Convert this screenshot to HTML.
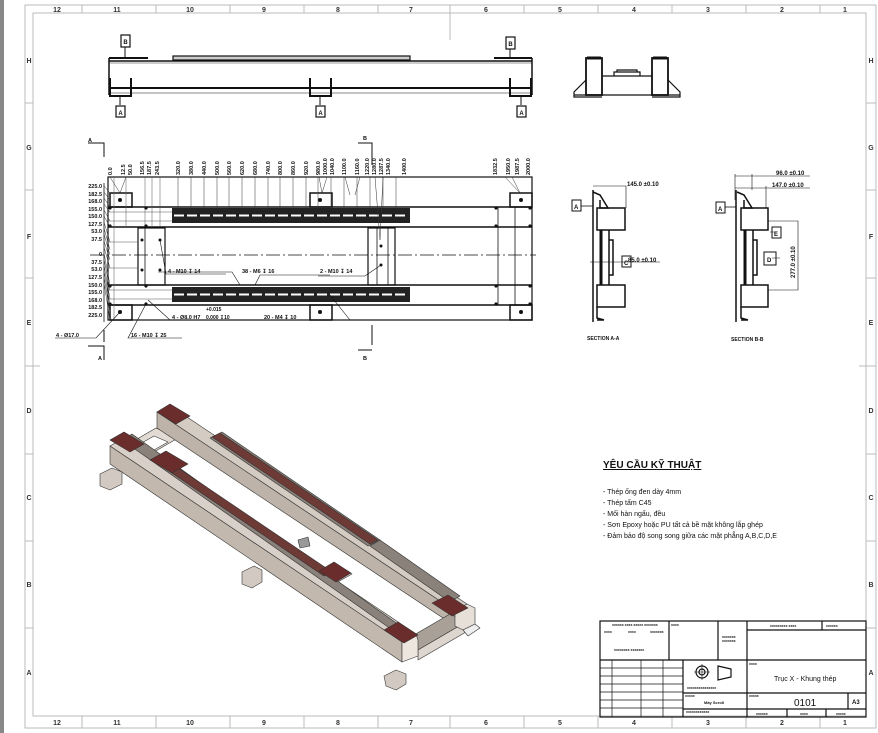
<!DOCTYPE html>
<html><head><meta charset="utf-8"><style>
html,body{margin:0;padding:0;background:#fff;}
svg{display:block;font-family:"Liberation Sans",sans-serif;}
</style></head><body>
<svg width="878" height="733" viewBox="0 0 878 733" xmlns="http://www.w3.org/2000/svg">
<rect x="0" y="0" width="878" height="733" fill="#fff"/>
<rect x="0" y="0" width="4" height="733" fill="#888"/>
<rect x="25" y="5" width="851" height="723" fill="none" stroke="#bbb" stroke-width="1"/>
<rect x="33" y="13" width="833" height="703" fill="none" stroke="#bbb" stroke-width="1"/>
<g stroke="#bbb" stroke-width="1">
<line x1="82" y1="5" x2="82" y2="13"/><line x1="156" y1="5" x2="156" y2="13"/><line x1="230" y1="5" x2="230" y2="13"/><line x1="304" y1="5" x2="304" y2="13"/><line x1="378" y1="5" x2="378" y2="13"/><line x1="450" y1="5" x2="450" y2="40"/><line x1="524" y1="5" x2="524" y2="13"/><line x1="598" y1="5" x2="598" y2="13"/><line x1="672" y1="5" x2="672" y2="13"/><line x1="746" y1="5" x2="746" y2="13"/><line x1="820" y1="5" x2="820" y2="13"/>
<line x1="82" y1="716" x2="82" y2="728"/><line x1="156" y1="716" x2="156" y2="728"/><line x1="230" y1="716" x2="230" y2="728"/><line x1="304" y1="716" x2="304" y2="728"/><line x1="378" y1="716" x2="378" y2="728"/><line x1="450" y1="716" x2="450" y2="728"/><line x1="524" y1="716" x2="524" y2="728"/><line x1="598" y1="716" x2="598" y2="728"/><line x1="672" y1="716" x2="672" y2="728"/><line x1="746" y1="716" x2="746" y2="728"/><line x1="820" y1="716" x2="820" y2="728"/>
<line x1="25" y1="103" x2="33" y2="103"/><line x1="25" y1="190" x2="33" y2="190"/><line x1="25" y1="278" x2="33" y2="278"/><line x1="25" y1="366" x2="40" y2="366"/><line x1="25" y1="454" x2="33" y2="454"/><line x1="25" y1="541" x2="33" y2="541"/><line x1="25" y1="628" x2="33" y2="628"/>
<line x1="866" y1="103" x2="876" y2="103"/><line x1="866" y1="190" x2="876" y2="190"/><line x1="866" y1="278" x2="876" y2="278"/><line x1="859" y1="366" x2="876" y2="366"/><line x1="866" y1="454" x2="876" y2="454"/><line x1="866" y1="541" x2="876" y2="541"/><line x1="866" y1="628" x2="876" y2="628"/>
</g>
<g font-size="7" fill="#333" text-anchor="middle" font-weight="bold">
<text x="57" y="12">12</text><text x="117" y="12">11</text><text x="190" y="12">10</text><text x="264" y="12">9</text><text x="338" y="12">8</text><text x="411" y="12">7</text><text x="486" y="12">6</text><text x="560" y="12">5</text><text x="634" y="12">4</text><text x="708" y="12">3</text><text x="782" y="12">2</text><text x="845" y="12">1</text>
<text x="57" y="725">12</text><text x="117" y="725">11</text><text x="190" y="725">10</text><text x="264" y="725">9</text><text x="338" y="725">8</text><text x="411" y="725">7</text><text x="486" y="725">6</text><text x="560" y="725">5</text><text x="634" y="725">4</text><text x="708" y="725">3</text><text x="782" y="725">2</text><text x="845" y="725">1</text>
<text x="29" y="63">H</text><text x="29" y="150">G</text><text x="29" y="239">F</text><text x="29" y="325">E</text><text x="29" y="413">D</text><text x="29" y="500">C</text><text x="29" y="587">B</text><text x="29" y="675">A</text>
<text x="871" y="63">H</text><text x="871" y="150">G</text><text x="871" y="239">F</text><text x="871" y="325">E</text><text x="871" y="413">D</text><text x="871" y="500">C</text><text x="871" y="587">B</text><text x="871" y="675">A</text>
</g>

<!-- TOP VIEW -->
<g stroke="#111" fill="none" stroke-width="1">
<rect x="121" y="35" width="9" height="12" stroke-width="1.2"/><line x1="125" y1="47" x2="125" y2="58"/>
<rect x="506" y="37" width="9" height="12" stroke-width="1.2"/><line x1="510" y1="49" x2="510" y2="58"/>
<line x1="109" y1="58" x2="148" y2="58" stroke-width="2"/><line x1="494" y1="58" x2="532" y2="58" stroke-width="2"/>
<rect x="173" y="56" width="237" height="4" fill="#ccc" stroke-width="1.2"/>
<line x1="109" y1="61" x2="532" y2="61" stroke-width="1.5"/>
<line x1="109" y1="63" x2="532" y2="63" stroke="#999"/>
<line x1="109" y1="58" x2="109" y2="95" stroke-width="1.5"/><line x1="532" y1="58" x2="532" y2="95" stroke-width="1.5"/>
<line x1="109" y1="88" x2="532" y2="88" stroke-width="2"/>
<line x1="109" y1="93" x2="532" y2="93" stroke="#888"/>
<path d="M110 78V96H131V78" stroke-width="2"/>
<path d="M310 78V96H331V78" stroke-width="2"/>
<path d="M510 78V96H531V78" stroke-width="2"/>
<line x1="120" y1="96" x2="120" y2="105"/><line x1="320" y1="96" x2="320" y2="105"/><line x1="521" y1="96" x2="521" y2="105"/>
<rect x="116" y="106" width="9" height="11" stroke-width="1.2"/><rect x="316" y="106" width="9" height="11" stroke-width="1.2"/><rect x="517" y="106" width="9" height="11" stroke-width="1.2"/>
</g>
<g font-size="6" font-weight="bold" text-anchor="middle" fill="#111">
<text x="125.5" y="44">B</text><text x="510.5" y="46">B</text><text x="120.5" y="115">A</text><text x="320.5" y="115">A</text><text x="521.5" y="115">A</text>
</g>

<!-- END VIEW -->
<g stroke="#111" fill="none" stroke-width="1.2">
<rect x="586" y="58" width="16" height="37" stroke-width="1.8"/>
<rect x="652" y="58" width="16" height="37" stroke-width="1.8"/>
<line x1="587" y1="58" x2="601" y2="58" stroke-width="3"/><line x1="653" y1="58" x2="667" y2="58" stroke-width="3"/>
<path d="M602 76H652M614 76V72H640V76M617 72V70H637V72"/>
<path d="M586 80L574 92V97H602M668 80L680 92V97H652" />
<line x1="574" y1="95" x2="680" y2="95"/>
</g>

<!-- PLAN VIEW -->
<g stroke="#111" fill="none" stroke-width="0.8">
<line x1="108" y1="177" x2="532" y2="177"/>
<rect x="108" y="177" width="424" height="143" stroke-width="1.2"/>
<rect x="110" y="193" width="22" height="14" stroke-width="1.5"/>
<rect x="310" y="193" width="22" height="14" stroke-width="1.5"/>
<rect x="510" y="193" width="22" height="14" stroke-width="1.5"/>
<rect x="110" y="305" width="22" height="15" stroke-width="1.5"/>
<rect x="310" y="305" width="22" height="15" stroke-width="1.5"/>
<rect x="510" y="305" width="22" height="15" stroke-width="1.5"/>
<line x1="108" y1="207" x2="532" y2="207" stroke-width="1.5"/>
<line x1="108" y1="227" x2="532" y2="227" stroke-width="1.5"/>
<line x1="108" y1="285" x2="532" y2="285" stroke-width="1.5"/>
<line x1="108" y1="305" x2="532" y2="305" stroke-width="1.5"/>
<rect x="172" y="208" width="238" height="15" fill="#222" stroke="none"/>
<rect x="172" y="287" width="238" height="15" fill="#222" stroke="none"/>
<line x1="174" y1="215.5" x2="408" y2="215.5" stroke="#fff" stroke-width="2" stroke-dasharray="10 3"/>
<line x1="174" y1="294.5" x2="408" y2="294.5" stroke="#fff" stroke-width="2" stroke-dasharray="10 3"/>
<rect x="138" y="228" width="27" height="57" stroke-width="1.2"/>
<rect x="368" y="228" width="27" height="57" stroke-width="1.2"/>
<line x1="145" y1="227" x2="145" y2="285"/><line x1="377" y1="227" x2="377" y2="285"/><line x1="388" y1="227" x2="388" y2="285"/>
<line x1="498" y1="207" x2="498" y2="305"/><line x1="515" y1="207" x2="515" y2="305"/>
<line x1="90" y1="255" x2="536" y2="255" stroke-dasharray="14 3 2 3"/>
<g stroke="#555" stroke-width="0.5">
<line x1="114" y1="177" x2="114" y2="320"/><line x1="126" y1="177" x2="126" y2="228"/>
<line x1="145" y1="177" x2="145" y2="227"/><line x1="152" y1="177" x2="152" y2="227"/><line x1="160" y1="177" x2="160" y2="227"/>
<line x1="108" y1="212" x2="172" y2="212"/><line x1="108" y1="221" x2="172" y2="221"/><line x1="108" y1="290" x2="172" y2="290"/><line x1="108" y1="299" x2="172" y2="299"/>
<line x1="108" y1="242" x2="138" y2="242"/><line x1="108" y1="268" x2="138" y2="268"/>
</g>
<g stroke="#333" stroke-width="0.5">
<path d="M178 177V208M191 177V208M204 177V208M217 177V208M229 177V208M242 177V208M255 177V208M268 177V208M280 177V208M293 177V208M306 177V208M318 177V208M331 177V208M344 177V208M357 177V208M370 177V208M383 177V208M396 177V208"/>
<path d="M319 177L322 193M327 177L322 193M345 177L350 195M360 177L355 195M375 177L380 240M383 177L380 240M505 177L520 193M512 177L520 193M110 177L120 193M126 177L120 193"/>
</g>
<g fill="#111" stroke="none">
<circle cx="120" cy="200" r="2"/><circle cx="320" cy="200" r="2"/><circle cx="521" cy="200" r="2"/>
<circle cx="120" cy="312" r="2"/><circle cx="320" cy="312" r="2"/><circle cx="521" cy="312" r="2"/>
<circle cx="110" cy="208" r="1.6"/><circle cx="110" cy="226" r="1.6"/><circle cx="110" cy="286" r="1.6"/><circle cx="110" cy="304" r="1.6"/>
<circle cx="146" cy="208" r="1.6"/><circle cx="146" cy="226" r="1.6"/><circle cx="146" cy="286" r="1.6"/><circle cx="146" cy="304" r="1.6"/>
<circle cx="496" cy="208" r="1.6"/><circle cx="496" cy="226" r="1.6"/><circle cx="496" cy="286" r="1.6"/><circle cx="496" cy="304" r="1.6"/>
<circle cx="530" cy="208" r="1.6"/><circle cx="530" cy="226" r="1.6"/><circle cx="530" cy="286" r="1.6"/><circle cx="530" cy="304" r="1.6"/>
<circle cx="142" cy="240" r="1.5"/><circle cx="160" cy="240" r="1.5"/><circle cx="142" cy="270" r="1.5"/><circle cx="160" cy="270" r="1.5"/>
<circle cx="381" cy="246" r="1.5"/><circle cx="381" cy="265" r="1.5"/>
</g>
<line x1="104" y1="183" x2="104" y2="322"/>
<path d="M104 186L110 193M104 192L110 200M104 198L110 207M104 204L110 212M104 210L110 221M104 216L110 227M104 222L110 242M104 228L110 250M104 234L110 255M104 241L110 260M104 247L110 268M104 253L110 285M104 259L110 290M104 265L110 299M104 271L110 305M104 277L110 312M104 283L110 320" stroke="#333" stroke-width="0.5"/>
<path d="M88 143H104V157M104 330V342M88 346H104V360" stroke-width="1"/>
<path d="M358 143H372V165M372 325V345M358 350H372" stroke-width="1"/>
<path d="M120 312L96 338H55M146 304L128 338H182M148 300L170 320H232M240 285L232 272H158M255 285L260 275H330M330 295L350 320H412M160 240L166 274H226M381 265L365 276H318" stroke-width="0.6"/>
</g>
<g font-size="5.5" fill="#111" font-weight="bold">
<text x="88" y="142">A</text><text x="98" y="360">A</text><text x="363" y="140">B</text><text x="363" y="360">B</text>
<text x="56" y="337">4 - Ø17.0</text>
<text x="131" y="337">16 - M10 ↧ 25</text>
<text x="172" y="319">4 - Ø8.0 H7</text><text x="206" y="311" font-size="5">+0.015</text><text x="206" y="319" font-size="5">0.000 ↧10</text>
<text x="264" y="319">20 - M4 ↧ 10</text>
<text x="168" y="273">4 - M10 ↧ 14</text>
<text x="242" y="273">38 - M6 ↧ 16</text>
<text x="320" y="273">2 - M10 ↧ 14</text>
</g>
<g font-size="5.5" fill="#111" font-weight="bold" text-anchor="end">
<text x="102" y="188">225.0</text><text x="102" y="196">182.5</text><text x="102" y="203">168.0</text><text x="102" y="211">155.0</text><text x="102" y="218">150.0</text><text x="102" y="226">127.5</text><text x="102" y="233">53.0</text><text x="102" y="241">37.5</text><text x="102" y="256">0</text><text x="102" y="264">37.5</text><text x="102" y="271">53.0</text><text x="102" y="279">127.5</text><text x="102" y="287">150.0</text><text x="102" y="294">155.0</text><text x="102" y="302">168.0</text><text x="102" y="309">182.5</text><text x="102" y="317">225.0</text>
</g>
<g font-size="5.5" fill="#111" font-weight="bold">
<text transform="translate(112,175) rotate(-90)">0.0</text>
<text transform="translate(125,175) rotate(-90)">12.5</text>
<text transform="translate(132,175) rotate(-90)">50.0</text>
<text transform="translate(144,175) rotate(-90)">156.5</text>
<text transform="translate(151,175) rotate(-90)">187.5</text>
<text transform="translate(159,175) rotate(-90)">243.5</text>
<text transform="translate(180,175) rotate(-90)">320.0</text>
<text transform="translate(193,175) rotate(-90)">380.0</text>
<text transform="translate(206,175) rotate(-90)">440.0</text>
<text transform="translate(219,175) rotate(-90)">500.0</text>
<text transform="translate(231,175) rotate(-90)">560.0</text>
<text transform="translate(244,175) rotate(-90)">620.0</text>
<text transform="translate(257,175) rotate(-90)">680.0</text>
<text transform="translate(270,175) rotate(-90)">740.0</text>
<text transform="translate(282,175) rotate(-90)">800.0</text>
<text transform="translate(295,175) rotate(-90)">860.0</text>
<text transform="translate(308,175) rotate(-90)">920.0</text>
<text transform="translate(320,175) rotate(-90)">980.0</text>
<text transform="translate(327,175) rotate(-90)">1000.0</text>
<text transform="translate(334,175) rotate(-90)">1040.0</text>
<text transform="translate(346,175) rotate(-90)">1100.0</text>
<text transform="translate(359,175) rotate(-90)">1160.0</text>
<text transform="translate(369,175) rotate(-90)">1220.0</text>
<text transform="translate(376,175) rotate(-90)">1280.0</text>
<text transform="translate(383,175) rotate(-90)">1287.5</text>
<text transform="translate(390,175) rotate(-90)">1340.0</text>
<text transform="translate(406,175) rotate(-90)">1400.0</text>
<text transform="translate(497,175) rotate(-90)">1832.5</text>
<text transform="translate(510,175) rotate(-90)">1950.0</text>
<text transform="translate(519,175) rotate(-90)">1987.5</text>
<text transform="translate(530,175) rotate(-90)">2000.0</text>
</g>

<!-- SECTION A-A -->
<g stroke="#111" fill="none" stroke-width="1.5">
<line x1="593" y1="190" x2="593" y2="322"/>
<path d="M593 192L600 195L608 208H600V200"/>
<rect x="597" y="208" width="28" height="22"/>
<rect x="597" y="285" width="28" height="22"/>
<line x1="601" y1="230" x2="601" y2="285" stroke-width="3"/>
<path d="M609 230V285M609 240H613V275H609"/>
<path d="M597 307V318L604 320H597"/>
<rect x="572" y="200" width="9" height="11" stroke-width="1"/>
<line x1="581" y1="206" x2="593" y2="206" stroke-width="0.8"/>
<path d="M593 186H626V208M590 262H660" stroke-width="0.6"/>
<rect x="622" y="256" width="9" height="11" stroke-width="1"/>
</g>
<g font-size="6" fill="#111" font-weight="bold">
<text x="627" y="186">145.0 ±0.10</text>
<text x="628" y="262">85.0 ±0.10</text>
<text x="574" y="209">A</text><text x="624" y="265">C</text>
<text x="587" y="340" font-size="5">SECTION A-A</text>
</g>

<!-- SECTION B-B -->
<g stroke="#111" fill="none" stroke-width="1.5">
<line x1="736" y1="190" x2="736" y2="322"/>
<path d="M737 192L744 195L752 208H744V200"/>
<rect x="741" y="208" width="27" height="22"/>
<rect x="741" y="285" width="27" height="22"/>
<line x1="745" y1="230" x2="745" y2="285" stroke-width="3"/>
<path d="M753 230V285M753 240H757V275H753"/>
<path d="M741 307V318L748 320H741"/>
<rect x="716" y="202" width="9" height="11" stroke-width="1"/>
<line x1="725" y1="207" x2="736" y2="207" stroke-width="0.8"/>
<path d="M735 176H810M735 188H810M735 174V200M752 174V190M766 186V208M768 221H798V290H768M770 232H777M772 258H780" stroke-width="0.6"/>
<rect x="772" y="227" width="9" height="11" stroke-width="1"/>
<rect x="764" y="252" width="12" height="13" stroke-width="1"/>
</g>
<g font-size="6" fill="#111" font-weight="bold">
<text x="776" y="175">96.0 ±0.10</text>
<text x="772" y="187">147.0 ±0.10</text>
<text transform="translate(795,278) rotate(-90)">277.0 ±0.10</text>
<text x="718" y="211">A</text><text x="774" y="236">E</text><text x="767" y="262">D</text>
<text x="731" y="341" font-size="5">SECTION B-B</text>
</g>

<!-- ISOMETRIC -->
<g stroke="#333" stroke-width="0.6" stroke-linejoin="round">
<!-- back cross member (far end) -->
<polygon points="132,442 156,428 178,438 154,452" fill="#e2dbd3"/>
<polygon points="140,444 154,436 168,442 154,450" fill="#fff"/>
<!-- back beam -->
<polygon points="157,412 169,405 467,604 455,611" fill="#d4ccc3"/>
<polygon points="157,412 455,611 455,626 157,428" fill="#bdb3a9"/>
<polygon points="210,438 222,432 380,540 368,546" fill="#8a827a"/>
<polygon points="212,437 220,433 378,540 370,544" fill="#6e3a36"/>
<polygon points="370,546 380,540 460,596 450,602" fill="#8a827a"/>
<!-- front end cross member -->
<polygon points="402,642 450,614 466,622 418,650" fill="#a9a198"/>
<polygon points="418,650 466,622 466,632 418,660" fill="#ddd6ce"/>
<polygon points="455,611 467,604 475,608 475,624 463,630 455,626" fill="#e7e0d8"/>
<polygon points="463,630 475,624 480,628 468,636" fill="#eee"/>
<!-- middle cross plate -->
<polygon points="318,572 334,563 352,574 336,583" fill="#e6e0d8"/>
<polygon points="318,572 336,583 336,588 318,577" fill="#c8c0b8"/>
<!-- front beam -->
<polygon points="110,446 124,438 416,634 402,642" fill="#d8d0c8"/>
<polygon points="110,446 402,642 402,662 110,464" fill="#c2b8ae"/>
<polygon points="122,440 132,434 406,630 398,634" fill="#8a827a"/>
<polygon points="160,465 168,461 332,572 324,576" fill="#6e3a36"/>
<polygon points="402,642 416,634 418,640 418,656 402,662" fill="#ece6de"/>
<!-- pads -->
<polygon points="157,412 170,404 190,416 176,424" fill="#6b2d2b"/>
<polygon points="110,440 124,432 144,444 130,452" fill="#6b2d2b"/>
<polygon points="150,460 166,451 188,464 172,473" fill="#6b2d2b"/>
<polygon points="319,571 334,562 351,573 336,582" fill="#6b2d2b"/>
<polygon points="432,603 448,595 468,608 452,616" fill="#6b2d2b"/>
<polygon points="384,630 398,622 418,635 404,643" fill="#6b2d2b"/>
<!-- feet -->
<polygon points="100,474 112,468 122,472 122,484 110,490 100,486" fill="#d2cac2"/>
<polygon points="242,572 254,566 262,570 262,582 252,588 242,584" fill="#d2cac2"/>
<polygon points="384,676 396,670 406,674 406,684 396,690 386,686" fill="#d2cac2"/>
<polygon points="298,540 308,537 310,546 300,548" fill="#999"/>
</g>

<!-- Requirements -->
<g fill="#111">
<text x="603" y="468" font-size="10" font-weight="bold" text-decoration="underline">YÊU CẦU KỸ THUẬT</text>
<g font-size="7">
<text x="603" y="494">- Thép ống đen dày 4mm</text>
<text x="603" y="505">- Thép tấm C45</text>
<text x="603" y="516">- Mối hàn ngấu, đều</text>
<text x="603" y="527">- Sơn Epoxy hoặc PU tất cả bề mặt không lắp ghép</text>
<text x="603" y="538">- Đảm bảo độ song song giữa các mặt phẳng A,B,C,D,E</text>
</g>
</g>

<!-- Title block -->
<g stroke="#111" fill="none" stroke-width="1.2">
<rect x="600" y="621" width="266" height="96"/>
<line x1="669" y1="621" x2="669" y2="660"/>
<line x1="718" y1="621" x2="718" y2="660"/>
<line x1="747" y1="621" x2="747" y2="717"/>
<line x1="600" y1="660" x2="866" y2="660"/>
<line x1="747" y1="630" x2="866" y2="630"/>
<line x1="822" y1="621" x2="822" y2="630"/>
<line x1="683" y1="660" x2="683" y2="717"/>
<line x1="683" y1="693" x2="866" y2="693"/>
<line x1="683" y1="709" x2="866" y2="709"/>
<line x1="848" y1="693" x2="848" y2="709"/>
<line x1="787" y1="709" x2="787" y2="717"/><line x1="826" y1="709" x2="826" y2="717"/>
<g stroke-width="0.7">
<line x1="612" y1="660" x2="612" y2="717"/><line x1="641" y1="660" x2="641" y2="717"/><line x1="663" y1="660" x2="663" y2="717"/>
<line x1="600" y1="668" x2="683" y2="668"/><line x1="600" y1="676" x2="683" y2="676"/><line x1="600" y1="684" x2="683" y2="684"/><line x1="600" y1="692" x2="683" y2="692"/><line x1="600" y1="700" x2="683" y2="700"/><line x1="600" y1="708" x2="683" y2="708"/>
</g>
<circle cx="702" cy="672" r="6"/><circle cx="702" cy="672" r="3"/><path d="M694 672H710M702 664V680" stroke-width="0.6"/>
<path d="M718 666L731 669V677L718 680Z"/>
</g>
<g fill="#111" font-size="3.5" font-weight="bold">
<text x="612" y="626">xxxxxx xxxx xxxxx xxxxxxx</text>
<text x="604" y="633">xxxx</text><text x="628" y="633">xxxx</text><text x="650" y="633">xxxxxxx</text>
<text x="614" y="651">xxxxxxxx xxxxxxx</text>
<text x="671" y="626">xxxx</text>
<text x="722" y="638">xxxxxxx</text><text x="722" y="642">xxxxxxx</text>
<text x="770" y="627">xxxxxxxxx xxxx</text><text x="826" y="627">xxxxxx</text>
<text x="749" y="665">xxxx</text><text x="685" y="697">xxxxx</text><text x="749" y="697">xxxxx</text>
<text x="687" y="689">xxxxxxxxxxxxxxx</text><text x="686" y="713">xxxxxxxxxxxx</text>
<text x="756" y="715">xxxxxx</text><text x="800" y="715">xxxx</text><text x="836" y="715">xxxxx</text>
</g>
<g fill="#111">
<text x="704" y="704" font-size="4" font-weight="bold">Máy Scroll</text>
<text x="774" y="681" font-size="7">Trục X - Khung thép</text>
<text x="794" y="706" font-size="10">0101</text>
<text x="852" y="704" font-size="6" font-weight="bold">A3</text>
</g>
</svg>
</body></html>
